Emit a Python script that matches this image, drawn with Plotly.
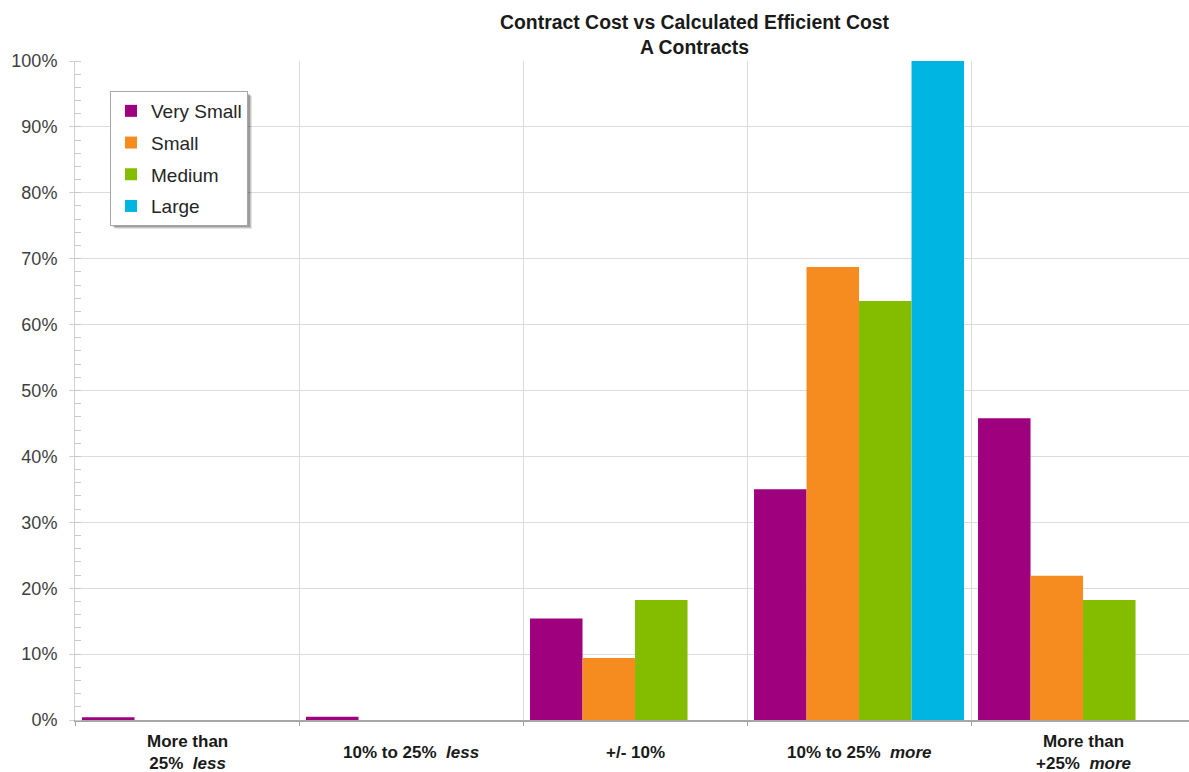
import plotly.graph_objects as go

categories = ["More than 25% less", "10% to 25% less", "+/- 10%", "10% to 25% more", "More than +25% more"]
tick_labels = [
    "<b>More than<br>25%  <i>less</i></b>",
    "<b>10% to 25%  <i>less</i></b>",
    "<b>+/- 10%</b>",
    "<b>10% to 25%  <i>more</i></b>",
    "<b>More than<br>+25%  <i>more</i></b>",
]

very_small = [0.004, 0.005, 0.154, 0.350, 0.458]
small = [0.0, 0.0, 0.094, 0.6875, 0.219]
medium = [0.0, 0.0, 0.182, 0.636, 0.182]
large = [0.0, 0.0, 0.0, 1.0, 0.0]

series = [
    ("Very Small", very_small, "#9E007E"),
    ("Small", small, "#F68B1F"),
    ("Medium", medium, "#84BD00"),
    ("Large", large, "#00B5E2"),
]

FONT = "Liberation Sans, Arial, sans-serif"
W, H = 1189, 772
ML, MR, MT, MB = 75, 0, 61, 52
PW, PH = W - ML - MR, H - MT - MB

fig = go.Figure()
for name, vals, color in series:
    fig.add_trace(go.Bar(
        x=categories, y=vals, name=name, legendgroup=name,
        marker=dict(color=color, line=dict(width=0)),
    ))

# category labels centred vertically under each group
for cat, label in zip(categories, tick_labels):
    fig.add_annotation(
        x=cat, xref="x", y=0, yref="paper",
        text=label, showarrow=False,
        xanchor="center", yanchor="middle", yshift=-32,
        align="center",
        font=dict(family=FONT, size=17, color="#1a1a1a"),
    )

# legend box placement (pixels) and a soft drop shadow behind it
LEG_X, LEG_Y = 110, 91
LEG_R, LEG_B = 247, 224
for off, alpha in [(5, 0.10), (4, 0.15), (3, 0.20)]:
    fig.add_shape(
        type="rect", xref="paper", yref="paper", layer="above",
        x0=(LEG_X + off - ML) / PW, x1=(LEG_R + off - ML) / PW,
        y0=1 - (LEG_B + off - MT) / PH, y1=1 - (LEG_Y + off - MT) / PH,
        fillcolor=f"rgba(0,0,0,{alpha})", line=dict(width=0),
    )

fig.update_layout(
    width=W, height=H,
    margin=dict(l=ML, r=MR, t=MT, b=MB),
    paper_bgcolor="white", plot_bgcolor="white",
    barmode="group", bargap=0.0625, bargroupgap=0,
    font=dict(family=FONT, size=17, color="#333333"),
    title=dict(
        text="<b>Contract Cost vs Calculated Efficient Cost<br>A Contracts</b>",
        x=694.5 / W, xanchor="center",
        yref="container", y=1 - 29 / H, yanchor="middle",
        font=dict(family=FONT, size=19.4, color="#1a1a1a"),
    ),
    legend=dict(
        x=(LEG_X - ML) / PW, xanchor="left",
        y=1 - (LEG_Y - MT) / PH, yanchor="top",
        bgcolor="white", bordercolor="#a6a6a6", borderwidth=1,
        font=dict(family=FONT, size=19, color="#262626"),
        tracegroupgap=4, traceorder="grouped",
    ),
)

fig.update_xaxes(
    type="category",
    tickson="boundaries", ticks="outside", ticklen=4, tickcolor="#a0a0a0",
    showticklabels=False,
    showgrid=True, gridcolor="#dcdcdc", gridwidth=1,
    showline=True, linecolor="#a6a6a6", linewidth=2,
    range=[-0.5, 4.473],
)
fig.update_yaxes(
    range=[0, 1], dtick=0.1, tickformat=".0%",
    ticks="outside", ticklen=5, tickcolor="#d0d0d0",
    ticklabelstandoff=8,
    showgrid=True, gridcolor="#dcdcdc", gridwidth=1,
    showline=True, linecolor="#d0d0d0", linewidth=1,
    zeroline=False,
    minor=dict(dtick=0.02, ticks="inside", ticklen=6, tickcolor="#c8c8c8", showgrid=False),
    tickfont=dict(family=FONT, size=18, color="#404040"),
)

fig.write_html("out.html")
